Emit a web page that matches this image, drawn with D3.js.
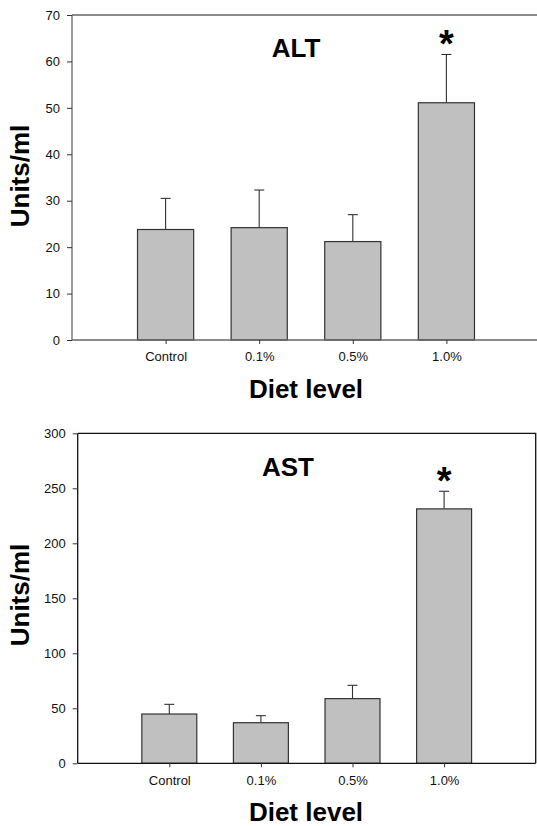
<!DOCTYPE html>
<html>
<head>
<meta charset="utf-8">
<script src="https://cdn.jsdelivr.net/npm/d3@7"></script>
<style>
  body { margin: 0; background: #fff; }
  svg { display: block; }
  text { font-family: Arial, "Liberation Sans", sans-serif; }
</style>
</head>
<body>
<div id="chart"></div>
<script>
// categories and values
var categories = ["Control", "0.1%", "0.5%", "1.0%"];

var altMean = [23.8, 24.2, 21.2, 51.1];
var altErr  = [6.7, 8.1, 5.8, 10.4];

var astMean = [44.8, 36.9, 58.8, 231.3];
var astErr  = [8.8, 6.4, 12.1, 16.0];

var altTicks = [0, 10, 20, 30, 40, 50, 60, 70];
var astTicks = [0, 50, 100, 150, 200, 250, 300];

var width = 537,
    height = 826;

var svg = d3.select("#chart").append("svg")
    .attr("width", width)
    .attr("height", height);

// draw one panel
function panel(opt) {
    var x = d3.scaleLinear().domain([0, 5]).range([opt.left, opt.right]);
    var y = d3.scaleLinear().domain([0, opt.max]).range([opt.bottom, opt.top]);
    var barW = x(0.6) - x(0);

    var g = svg.append("g");

    // frame (top and right)
    g.append("path")
        .attr("fill", "none")
        .attr("stroke", opt.frameColor)
        .attr("stroke-width", 1.3)
        .attr("d", "M" + x(0) + "," + y(opt.max) + "H" + x(5) + "V" + y(0));

    // error bars (upper only)
    var eb = g.selectAll(".err")
        .data(opt.mean)
        .enter().append("g");
    eb.append("line")
        .attr("x1", function(d, i) { return x(i + 1); })
        .attr("x2", function(d, i) { return x(i + 1); })
        .attr("y1", function(d) { return y(d); })
        .attr("y2", function(d, i) { return y(d + opt.err[i]); })
        .attr("stroke", "#333")
        .attr("stroke-width", 1.1);
    eb.append("line")
        .attr("x1", function(d, i) { return x(i + 1) - 5; })
        .attr("x2", function(d, i) { return x(i + 1) + 5; })
        .attr("y1", function(d, i) { return y(d + opt.err[i]); })
        .attr("y2", function(d, i) { return y(d + opt.err[i]); })
        .attr("stroke", "#333")
        .attr("stroke-width", 1.1);

    // bars
    g.selectAll(".bar")
        .data(opt.mean)
        .enter().append("rect")
        .attr("x", function(d, i) { return x(i + 1) - barW / 2; })
        .attr("y", function(d) { return y(d); })
        .attr("width", barW)
        .attr("height", function(d) { return y(0) - y(d); })
        .attr("fill", "#c0c0c0")
        .attr("stroke", "#333")
        .attr("stroke-width", 1.2);

    // y axis
    var ya = g.append("g")
        .attr("transform", "translate(" + x(0) + ",0)")
        .call(d3.axisLeft(y).tickValues(opt.ticks).tickSize(5).tickPadding(7));
    // x axis
    var xa = g.append("g")
        .attr("transform", "translate(0," + y(0) + ")")
        .call(d3.axisBottom(x).tickValues([1, 2, 3, 4])
            .tickFormat(function(d) { return categories[d - 1]; })
            .tickSize(4).tickPadding(8));

    [ya, xa].forEach(function(a) {
        a.select(".domain").attr("stroke", opt.frameColor).attr("stroke-width", 1.3);
        a.selectAll(".tick line").attr("stroke", "#333");
        a.selectAll("text")
            .attr("fill", "#111")
            .style("font-size", "13px")
            .style("font-family", "Arial, 'Liberation Sans', sans-serif");
    });
    // plain axis lines, no end caps
    xa.select(".domain").attr("d", "M" + x(0) + ",0H" + x(5));
    ya.select(".domain").attr("d", "M0," + y(0) + "V" + y(opt.max));

    // panel title
    g.append("text")
        .attr("x", opt.titleX)
        .attr("y", opt.titleY)
        .attr("text-anchor", "middle")
        .style("font-size", "26px")
        .style("font-weight", "bold")
        .text(opt.title);

    // significance star above the 1.0% bar
    g.append("text")
        .attr("x", x(4))
        .attr("y", opt.starY)
        .attr("text-anchor", "middle")
        .style("font-size", "38px")
        .style("font-weight", "bold")
        .text("*");

    // axis titles
    g.append("text")
        .attr("transform", "translate(29," + opt.ylabY + ") rotate(-90)")
        .attr("text-anchor", "middle")
        .style("font-size", "26px")
        .style("font-weight", "bold")
        .text("Units/ml");
    g.append("text")
        .attr("x", 306)
        .attr("y", y(0) + 58)
        .attr("text-anchor", "middle")
        .style("font-size", "26px")
        .style("font-weight", "bold")
        .text("Diet level");
}

panel({
    mean: altMean, err: altErr, max: 70, ticks: altTicks,
    left: 72, right: 540, top: 15, bottom: 340,
    frameColor: "#666",
    title: "ALT", titleX: 296, titleY: 57,
    starY: 57, ylabY: 176
});

panel({
    mean: astMean, err: astErr, max: 300, ticks: astTicks,
    left: 77.7, right: 535.7, top: 433.3, bottom: 763.3,
    frameColor: "#111",
    title: "AST", titleX: 288, titleY: 476,
    starY: 494, ylabY: 595
});
</script>
</body>
</html>
